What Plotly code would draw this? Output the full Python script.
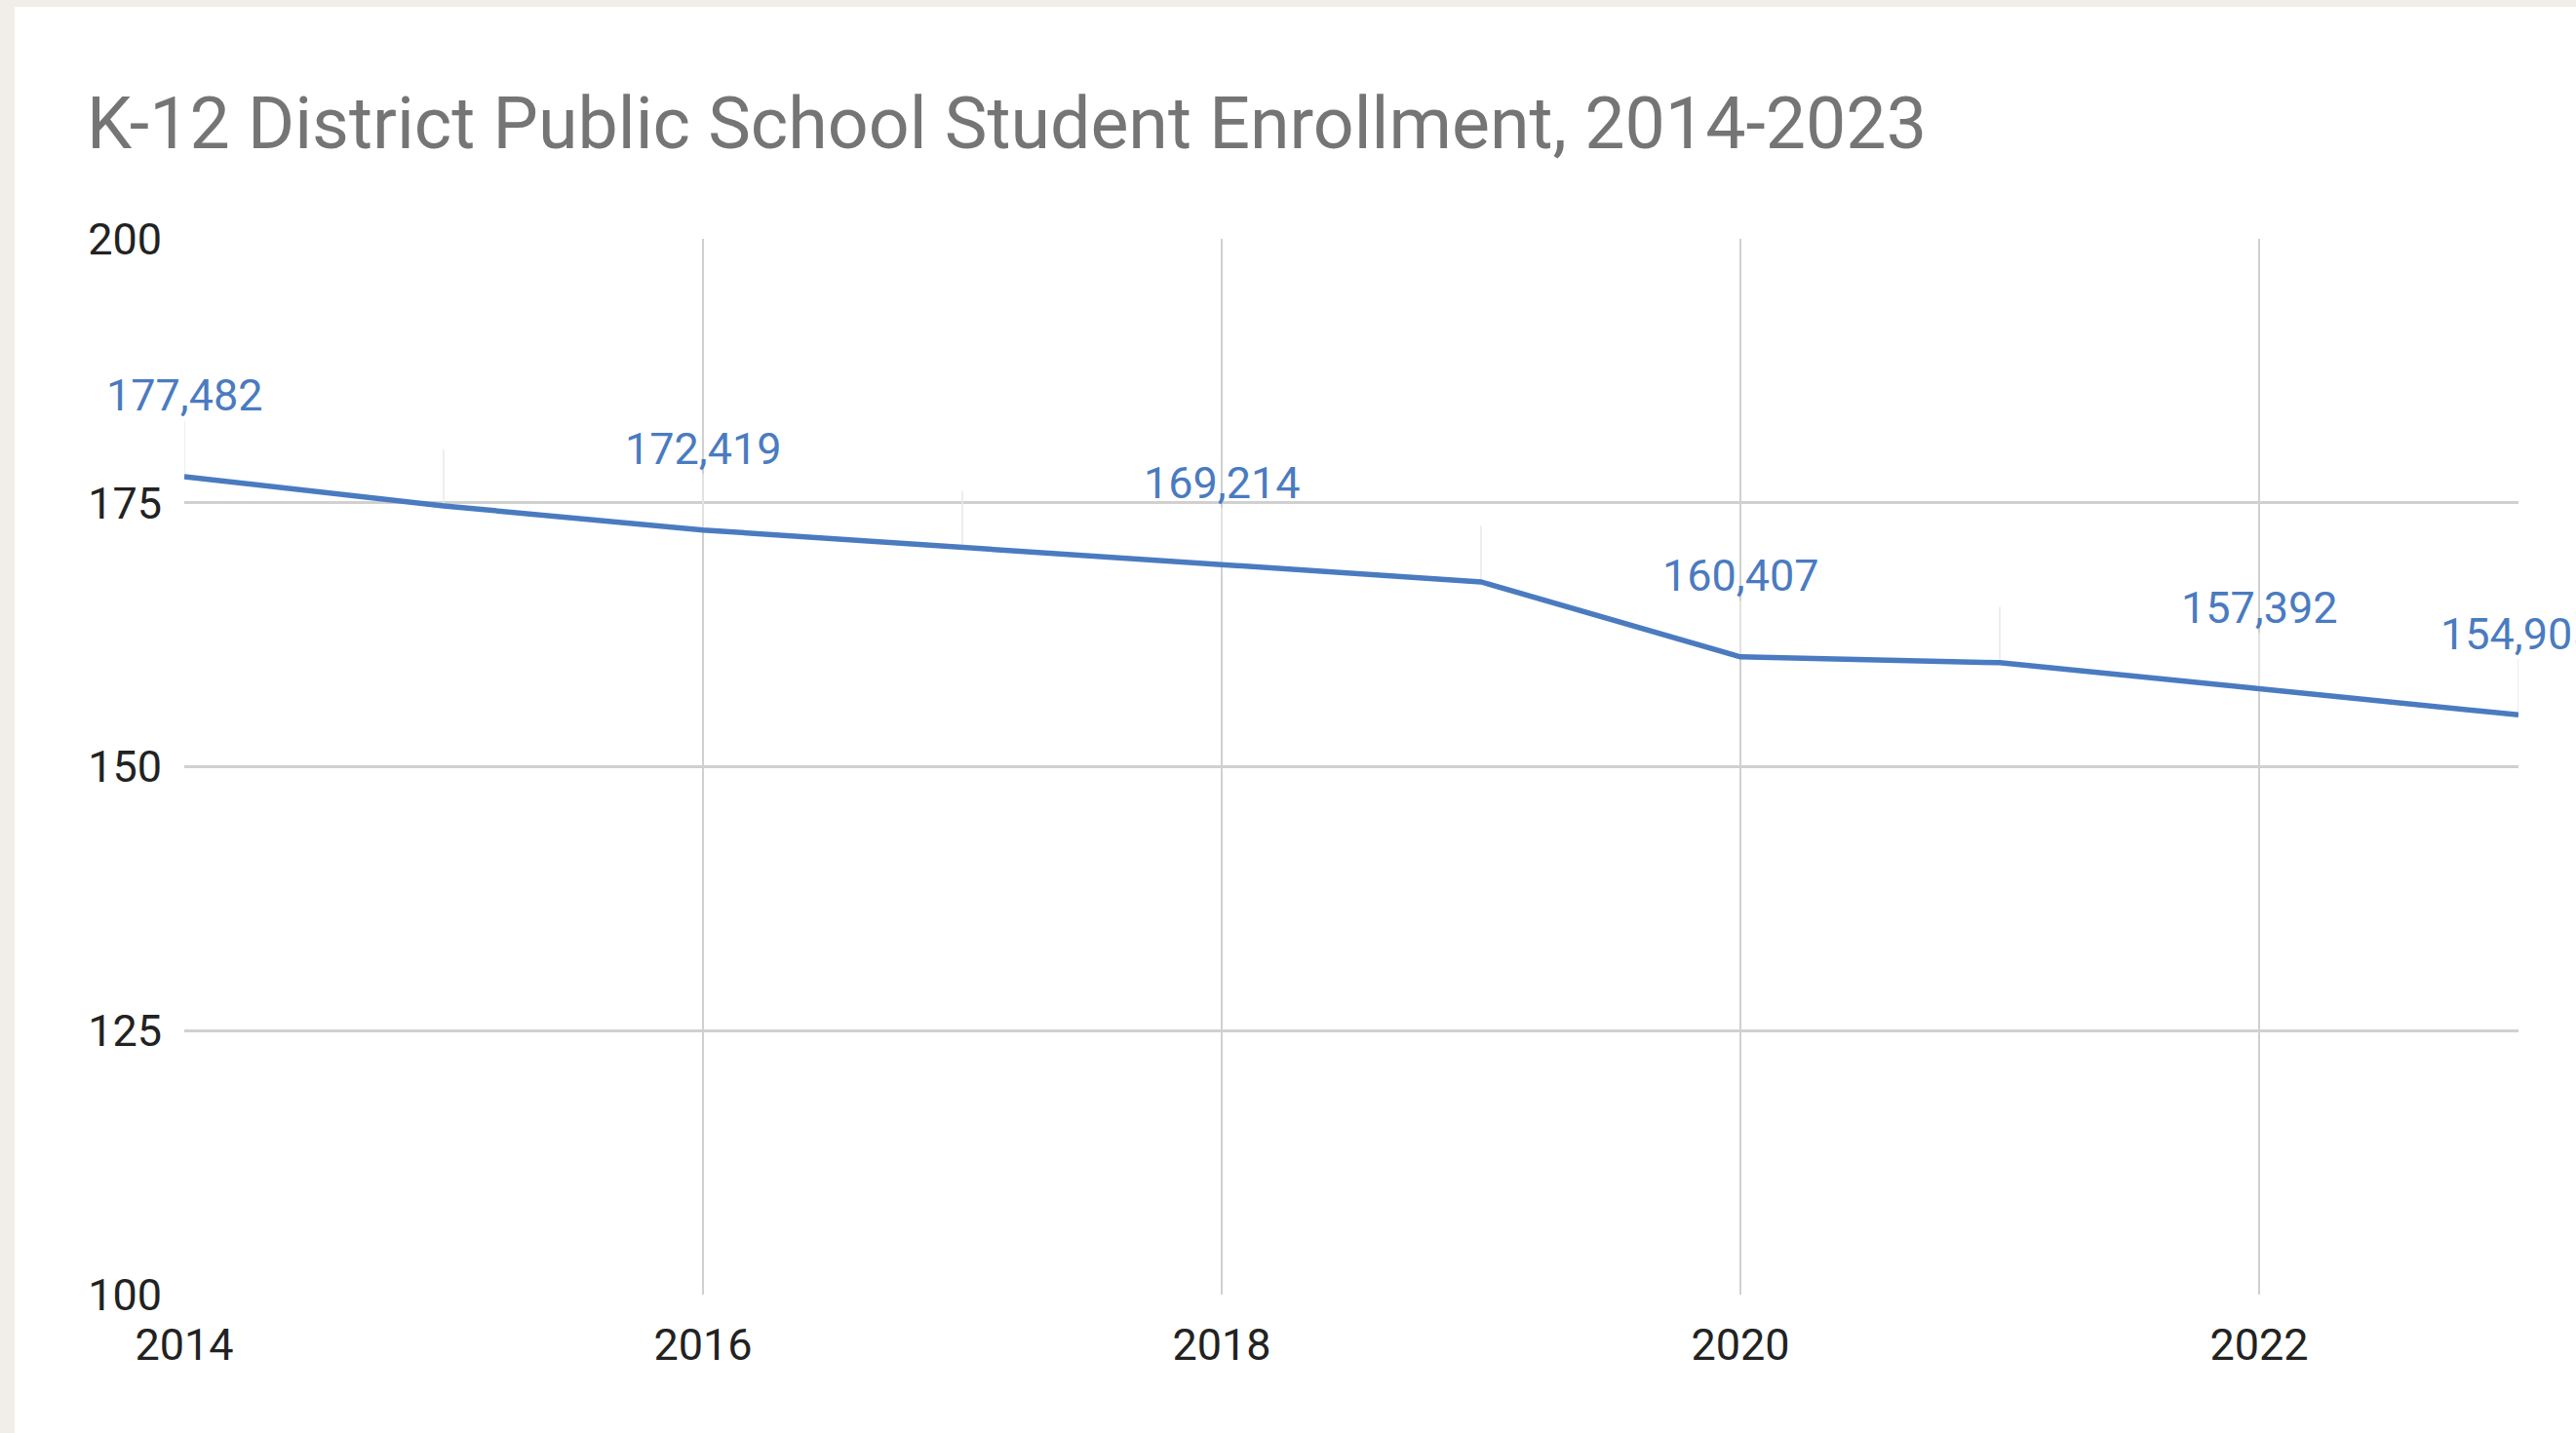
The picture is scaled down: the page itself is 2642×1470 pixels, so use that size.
import plotly.graph_objects as go

# ---- data ----
years = [2014, 2015, 2016, 2017, 2018, 2019, 2020, 2021, 2022, 2023]
enrollment = [177482, 174700, 172419, 170800, 169214, 167500, 160407, 159850, 157392, 154905]
# which points show a visible data label in the original chart
label_visible = [True, False, True, False, True, False, True, False, True, True]
x_tick_vals = [2014, 2016, 2018, 2020, 2022]
y_tick_vals = [100, 125, 150, 175, 200]
title_text = "K-12 District Public School Student Enrollment, 2014-2023"

# ---- style ----
W, H = 2642, 1470
PL, PR, PT, PB = 189, 2583, 245, 1328   # plot area in pixels
BLUE = "#4a7bc0"
GRID = "#d0d0d0"
FONT = "Roboto"

values_k = [v / 1000 for v in enrollment]

fig = go.Figure()
fig.add_trace(go.Scatter(
    x=years, y=values_k, mode="lines",
    line=dict(color=BLUE, width=5.5),
    error_y=dict(type="data", symmetric=False,
                 array=[5.3] * len(years), arrayminus=[0] * len(years),
                 color="#e8e8e8", thickness=1.5, width=0),
    hoverinfo="skip", showlegend=False,
))

for yr, v, vis in zip(years, enrollment, label_visible):
    if not vis:
        continue
    fig.add_annotation(
        x=yr, y=v / 1000, text=f"{v:,}", showarrow=False,
        yshift=83, xanchor="center", yanchor="middle",
        font=dict(family=FONT, size=45, color=BLUE),
    )

# beige page strips (left and top)
def px_to_paper_x(px):
    return (px - PL) / (PR - PL)

def px_to_paper_y(py):
    return (PB - py) / (PB - PT)

fig.add_shape(type="rect", xref="paper", yref="paper", layer="below",
              x0=px_to_paper_x(0), x1=px_to_paper_x(15),
              y0=px_to_paper_y(H), y1=px_to_paper_y(0),
              fillcolor="#f1eee9", line_width=0)
fig.add_shape(type="rect", xref="paper", yref="paper", layer="below",
              x0=px_to_paper_x(0), x1=px_to_paper_x(W),
              y0=px_to_paper_y(7), y1=px_to_paper_y(0),
              fillcolor="#f1eee9", line_width=0)

fig.update_layout(
    width=W, height=H,
    margin=dict(l=PL, r=W - PR, t=PT, b=H - PB, pad=0),
    paper_bgcolor="white", plot_bgcolor="white",
    font=dict(family=FONT, size=45, color="#222222"),
    title=dict(text=title_text, xref="container", yref="container",
               x=89 / W, xanchor="left", y=1 - 126 / H, yanchor="middle",
               font=dict(family=FONT, size=73.5, color="#757575")),
)
fig.update_xaxes(
    range=[2014, 2023], tickvals=x_tick_vals, ticktext=[str(t) for t in x_tick_vals],
    showgrid=True, gridcolor=GRID, gridwidth=1.5, zeroline=False,
    showline=False, ticks="", ticklabelstandoff=21,
    tickfont=dict(family=FONT, size=45, color="#222222"),
)
fig.update_yaxes(
    range=[100, 200], tickvals=y_tick_vals,
    showgrid=True, gridcolor=GRID, gridwidth=2.5, zeroline=False,
    showline=False, ticks="", ticklabelstandoff=22,
    tickfont=dict(family=FONT, size=45, color="#222222"),
)

fig.write_html("out.html", config={"displayModeBar": False},
               post_script="document.body.style.margin='0';document.body.style.overflow='hidden';")
